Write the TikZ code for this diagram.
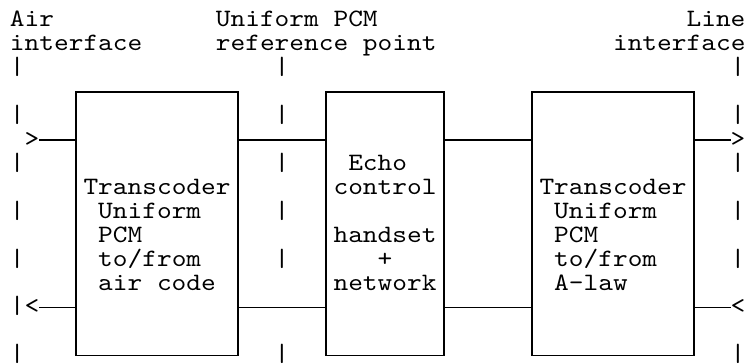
\documentclass[tikz,border=0pt]{standalone}
\usepackage{fontspec}
\newfontfamily\asciifont{lmmono10-regular.otf}[FakeStretch=1.1208]
\begin{document}
\begin{tikzpicture}
\useasboundingbox (0,0) rectangle (747pt,-364pt);
\fill[white] (0,0) rectangle (747pt,-364pt);
\begin{scope}[shift={(9.95pt,-2.76pt)}, x=14.71pt, y=-23.94pt,
  txt/.style={anchor=base west, inner sep=0pt, outer sep=0pt,
    font=\asciifont\fontsize{25pt}{25pt}\selectfont, text=black},
  tip/.style={txt, text height=13pt, text depth=0pt},
  blk/.style={draw, line width=1.6pt, inner sep=0pt, outer sep=0pt,
    minimum height=263.34pt, yshift=6.5pt},
  wire/.style={line width=1.6pt}]
% header texts
\node[txt] (air1) at (0,1) {Air};
\node[txt] (air2) at (0,2) {interface};
\node[txt] (ref1) at (14,1) {Uniform PCM};
\node[txt] (ref2) at (14,2) {reference point};
\node[txt] (line1) at (46,1) {Line};
\node[txt] (line2) at (41,2) {interface};
% dashed reference lines made of bars
\foreach \r in {3,5,7,9,11,13,15} \node[txt] (barL\r) at (0,\r) {|};
\foreach \r in {3,5,7,9,11,15} \node[txt] (barM\r) at (18,\r) {|};
\foreach \r in {3,5,7,9,11,15} \node[txt] (barR\r) at (49,\r) {|};
% arrow heads
\node[tip] (gtL) at (1,6) {>};
\node[tip] (ltL) at (1,13) {<};
\node[tip] (gtR) at (49,6) {>};
\node[tip] (ltR) at (49,13) {<};
% boxes
\node[blk, minimum width=161.81pt] (box1) at (10,9.5) {};
\node[blk, minimum width=117.68pt] (box2) at (25.5,9.5) {};
\node[blk, minimum width=161.81pt] (box3) at (41,9.5) {};
% box texts
\node[txt] (t1a) at (5,8) {Transcoder};
\node[txt] (t1b) at (6,9) {Uniform};
\node[txt] (t1c) at (6,10) {PCM};
\node[txt] (t1d) at (6,11) {to/from};
\node[txt] (t1e) at (6,12) {air code};
\node[txt] (t2a) at (23,7) {Echo};
\node[txt] (t2b) at (22,8) {control};
\node[txt] (t2c) at (22,10) {handset};
\node[txt] (t2d) at (25,11) {+};
\node[txt] (t2e) at (22,12) {network};
\node[txt] (t3a) at (36,8) {Transcoder};
\node[txt] (t3b) at (37,9) {Uniform};
\node[txt] (t3c) at (37,10) {PCM};
\node[txt] (t3d) at (37,11) {to/from};
\node[txt] (t3e) at (37,12) {A-law};
% wires, upper row
\draw[wire] (gtL.east) -- (gtL.east -| box1.west);
\draw[wire] (box1.east |- gtL.east) -- (box2.west |- gtL.east);
\draw[wire] (box2.east |- gtL.east) -- (box3.west |- gtL.east);
\draw[wire] (box3.east |- gtR.west) -- (gtR.west);
% wires, lower row
\draw[wire] (ltL.east) -- (ltL.east -| box1.west);
\draw[wire] (box1.east |- ltL.east) -- (box2.west |- ltL.east);
\draw[wire] (box2.east |- ltL.east) -- (box3.west |- ltL.east);
\draw[wire] (box3.east |- ltR.west) -- (ltR.west);
\end{scope}
\end{tikzpicture}
\end{document}
